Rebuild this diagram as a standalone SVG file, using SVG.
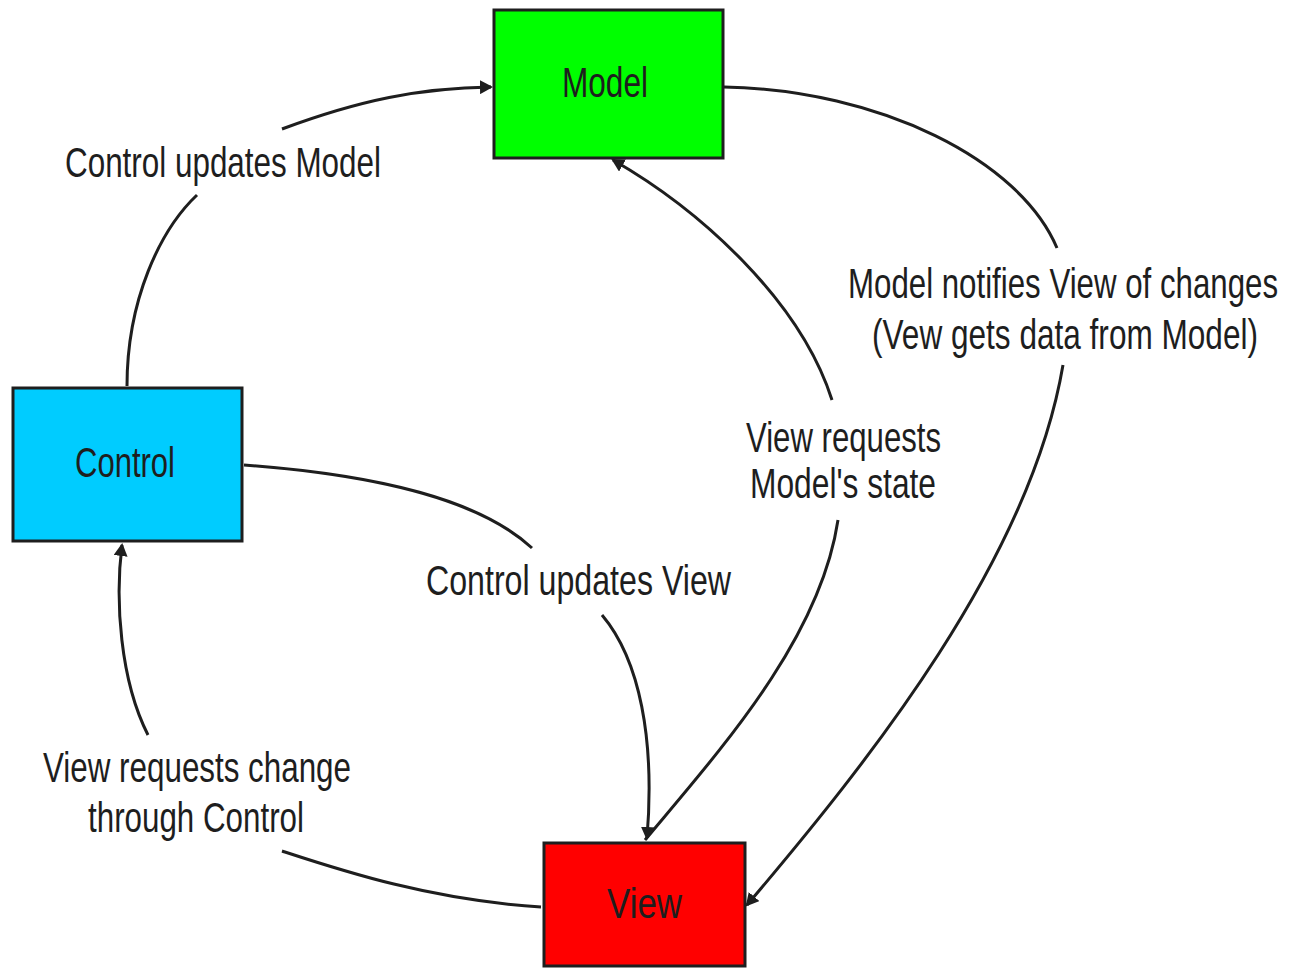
<svg xmlns="http://www.w3.org/2000/svg" width="1291" height="968" viewBox="0 0 1291 968">
<style>
.box{stroke:#1e1e1e;stroke-width:3}
.t{font-family:"Liberation Sans Narrow","Liberation Sans",Arial,sans-serif;font-size:42px;fill:#1e1e1e}
.s{font-size:31px}
.c{fill:none;stroke:#1e1e1e;stroke-width:3}
</style>
<defs>
<marker id="ah" markerWidth="14" markerHeight="14" refX="11" refY="7" orient="auto" markerUnits="userSpaceOnUse">
<path d="M0,0 L13,7 L0,14 Z" fill="#1e1e1e"/>
</marker>
</defs>
<rect width="1291" height="968" fill="#ffffff"/>
<g id="connectors">
<path class="c" d="M127,386 C127,300 160,230 197,195"/>
<path class="c" d="M282,129 C360,100 420,88 491,87" marker-end="url(#ah)"/>
<path class="c" d="M724,87 C880,90 1020,160 1057,248"/>
<path class="c" d="M1063,365 C1030,560 870,760 747,905" marker-end="url(#ah)"/>
<path class="c" d="M645,840 C720,750 820,640 838,520"/>
<path class="c" d="M832,400 C800,300 700,210 613,160" marker-end="url(#ah)"/>
<path class="c" d="M244,465 C380,475 480,500 532,548"/>
<path class="c" d="M602,615 C640,660 655,740 647,838" marker-end="url(#ah)"/>
<path class="c" d="M541,907 C430,900 340,870 282,851"/>
<path class="c" d="M148,735 C120,680 115,600 122,545" marker-end="url(#ah)"/>
</g>
<g id="model">
<rect class="box" x="494" y="10" width="229" height="148" fill="#00ff00"/>
<text class="t" x="562" y="97" textLength="86" lengthAdjust="spacingAndGlyphs">Model</text>
</g>
<g id="control">
<rect class="box" x="13" y="388" width="229" height="153" fill="#00ccff"/>
<text class="t" x="75" y="477" textLength="100" lengthAdjust="spacingAndGlyphs">Control</text>
</g>
<g id="view">
<rect class="box" x="544" y="843" width="201" height="123" fill="#ff0000"/>
<text class="t" x="607" y="918" textLength="75" lengthAdjust="spacingAndGlyphs">View</text>
</g>
<g id="labels">
<text class="t s" transform="translate(848,298) scale(1,1.35)" x="0" y="0" textLength="430" lengthAdjust="spacingAndGlyphs">Model notifies View of changes</text>
<text class="t s" transform="translate(872,349) scale(1,1.35)" x="0" y="0" textLength="386" lengthAdjust="spacingAndGlyphs">(Vew gets data from Model)</text>
<text class="t" x="65" y="177" textLength="316" lengthAdjust="spacingAndGlyphs">Control updates Model</text>
<text class="t" x="746" y="452" textLength="195" lengthAdjust="spacingAndGlyphs">View requests</text>
<text class="t" x="750" y="498" textLength="186" lengthAdjust="spacingAndGlyphs">Model's state</text>
<text class="t" x="426" y="595" textLength="305" lengthAdjust="spacingAndGlyphs">Control updates View</text>
<text class="t" x="43" y="782" textLength="308" lengthAdjust="spacingAndGlyphs">View requests change</text>
<text class="t" x="88" y="832" textLength="216" lengthAdjust="spacingAndGlyphs">through Control</text>
</g>
</svg>
